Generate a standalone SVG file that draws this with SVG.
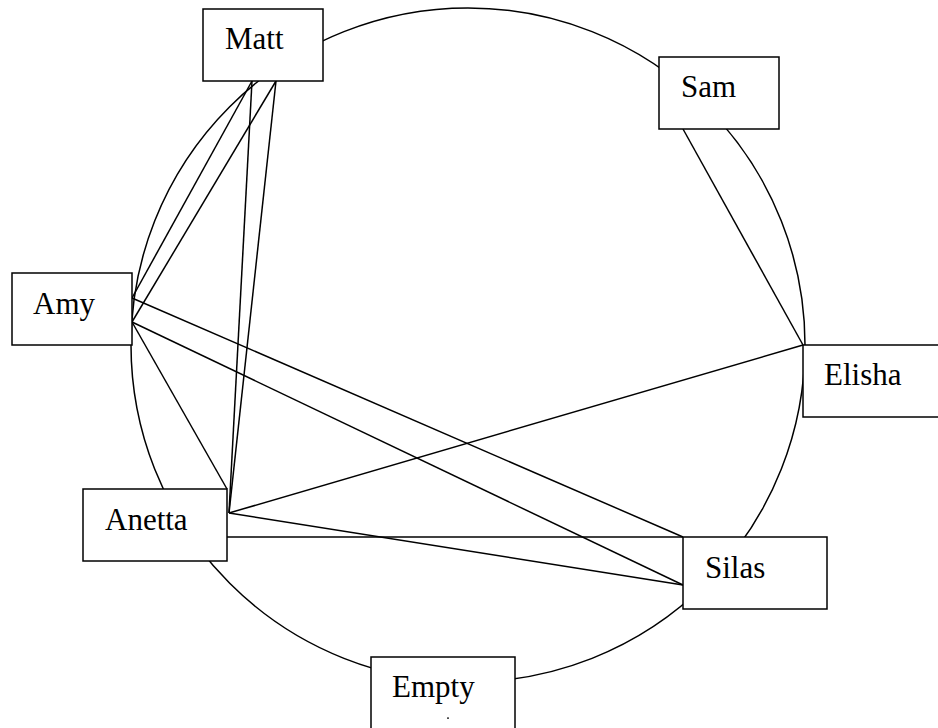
<svg xmlns="http://www.w3.org/2000/svg" width="938" height="728" viewBox="0 0 938 728">
<style>
.bg{fill:#ffffff}
.ring{fill:none;stroke:#000;stroke-width:1.5}
.box{fill:#ffffff;stroke:#000;stroke-width:1.5}
.edge{stroke:#000;stroke-width:1.5;fill:none}
.lbl{font-size:31px;fill:#000}
</style>
<rect class="bg" x="0" y="0" width="938" height="728"/>
<circle class="ring" cx="468" cy="345" r="337"/>
<g id="connectors">
<line class="edge" x1="132" y1="298" x2="252" y2="81"/>
<line class="edge" x1="132" y1="322" x2="276" y2="81"/>
<line class="edge" x1="252" y1="81" x2="229" y2="513"/>
<line class="edge" x1="276" y1="81" x2="229" y2="513"/>
<line class="edge" x1="132" y1="298" x2="683" y2="537"/>
<line class="edge" x1="132" y1="322" x2="683" y2="585"/>
<line class="edge" x1="132" y1="322" x2="227" y2="489"/>
<line class="edge" x1="229" y1="513" x2="803" y2="345"/>
<line class="edge" x1="229" y1="513" x2="683" y2="585"/>
<line class="edge" x1="227" y1="537" x2="683" y2="537"/>
<line class="edge" x1="683" y1="129" x2="803" y2="345"/>
</g>
<g id="labels-font" font-family="'Liberation Serif', 'Times New Roman', 'DejaVu Serif', serif">
<g id="matt">
<rect class="box" x="203" y="9" width="120" height="72"/>
<text class="lbl" x="225" y="49">Matt</text>
</g>
<g id="sam">
<rect class="box" x="659" y="57" width="120" height="72"/>
<text class="lbl" x="681" y="97">Sam</text>
</g>
<g id="amy">
<rect class="box" x="12" y="273" width="120" height="72"/>
<text class="lbl" x="33" y="314">Amy</text>
</g>
<g id="elisha">
<rect class="box" x="803" y="345" width="140" height="72"/>
<text class="lbl" x="824" y="385">Elisha</text>
</g>
<g id="anetta">
<rect class="box" x="83" y="489" width="144" height="72"/>
<text class="lbl" x="105" y="530">Anetta</text>
</g>
<g id="silas">
<rect class="box" x="683" y="537" width="144" height="72"/>
<text class="lbl" x="705" y="578">Silas</text>
</g>
<g id="empty">
<rect class="box" x="371" y="657" width="144" height="80"/>
<text class="lbl" x="392" y="697">Empty</text>
<rect x="447" y="717.5" width="2" height="1.2" fill="#000"/>
</g>
</g>
</svg>
